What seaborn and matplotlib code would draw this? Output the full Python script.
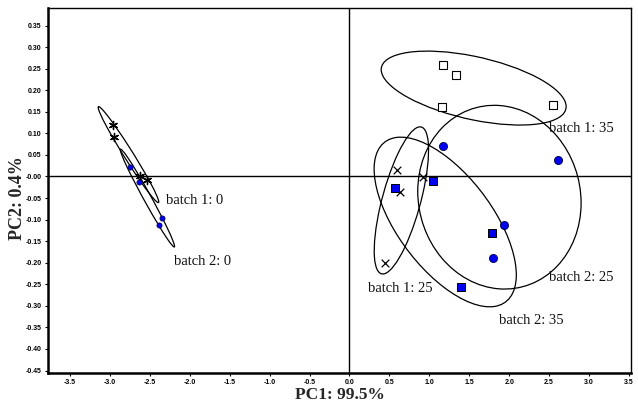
import numpy as np
import pandas as pd
import matplotlib
matplotlib.use("Agg")
import matplotlib.pyplot as plt
import seaborn as sns
from matplotlib.patches import Ellipse
from matplotlib.ticker import FixedLocator, FuncFormatter

# ---- data (PC scores) ----
b10_x = [-2.96, -2.95, -2.62, -2.54]
b10_y = [0.119, 0.092, 0.000, -0.008]
b20_x = [-2.75, -2.64, -2.35, -2.38]
b20_y = [0.023, -0.013, -0.097, -0.113]
b125_x = [0.60, 0.63, 0.92, 0.45]
b125_y = [0.014, -0.035, -0.001, -0.200]
b135_x = [1.17, 1.34, 1.16, 2.55]
b135_y = [0.259, 0.235, 0.161, 0.165]
b225_x = [1.17, 2.61, 1.93, 1.80]
b225_y = [0.071, 0.038, -0.113, -0.188]
b235_x = [0.575, 1.04, 1.78, 1.40]
b235_y = [-0.026, -0.010, -0.130, -0.256]

group_names = ["batch 1: 0", "batch 2: 0", "batch 1: 25",
               "batch 1: 35", "batch 2: 25", "batch 2: 35"]
label_x = [-2.30, -2.195, 0.23, 2.50, 2.50, 1.87]
label_y = [-0.055, -0.198, -0.26, 0.112, -0.234, -0.335]

x_ticks = [-3.5, -3.0, -2.5, -2.0, -1.5, -1.0, -0.5, 0.0, 0.5, 1.0, 1.5, 2.0, 2.5, 3.0, 3.5]
y_ticks = [-0.45, -0.40, -0.35, -0.30, -0.25, -0.20, -0.15, -0.10, -0.05, 0.0,
           0.05, 0.10, 0.15, 0.20, 0.25, 0.30, 0.35]

ELL_SCALE = np.sqrt(3.0)

sns.set_style("ticks")
plt.rcParams["font.family"] = ["Liberation Serif", "DejaVu Serif"]

fig = plt.figure(figsize=(6.38, 4.08), dpi=100)
ax = fig.add_axes([48 / 638, 1 - 372.7 / 408, (631 - 48) / 638, (372.7 - 8.3) / 408])

blue = "#0000ee"
groups = [
    (b10_x, b10_y, dict(marker=(6, 2, 0), s=34, color="black", linewidth=1.0)),
    (b20_x, b20_y, dict(marker="o", s=14, color=blue, edgecolor="#000044", linewidth=0.5)),
    (b125_x, b125_y, dict(marker="x", s=30, color="black", linewidth=0.9)),
    (b135_x, b135_y, dict(marker="s", s=26, facecolor="white", edgecolor="black", linewidth=0.8)),
    (b225_x, b225_y, dict(marker="o", s=34, color=blue, edgecolor="#000044", linewidth=0.6)),
    (b235_x, b235_y, dict(marker="s", s=34, color=blue, edgecolor="black", linewidth=0.7)),
]

# zero lines
ax.axhline(0, color="black", lw=1.0, zorder=1)
ax.axvline(0, color="black", lw=1.0, zorder=1)

for (gx, gy, style), name, lx, ly in zip(groups, group_names, label_x, label_y):
    df = pd.DataFrame({"PC1": gx, "PC2": gy})
    sns.scatterplot(data=df, x="PC1", y="PC2", ax=ax, legend=False, zorder=3, **style)
    # covariance ellipse
    xy = np.column_stack([gx, gy])
    mean = xy.mean(axis=0)
    cov = np.cov(xy, rowvar=False)
    vals, vecs = np.linalg.eigh(cov)
    order = vals.argsort()[::-1]
    vals, vecs = vals[order], vecs[:, order]
    angle = np.degrees(np.arctan2(vecs[1, 0], vecs[0, 0]))
    w, h = 2 * ELL_SCALE * np.sqrt(vals)
    ax.add_patch(Ellipse(mean, w, h, angle=angle, fill=False, edgecolor="black", lw=0.9, zorder=2))
    ax.text(lx, ly, name, fontsize=10.5, va="center", ha="left", color="#111111", zorder=4)

ax.set_xlim(-3.775, 3.525)
ax.set_ylim(-0.455, 0.39)
ax.xaxis.set_major_locator(FixedLocator(x_ticks))
ax.yaxis.set_major_locator(FixedLocator(y_ticks))
ax.xaxis.set_major_formatter(FuncFormatter(lambda v, p: f"{v:.1f}"))
ax.yaxis.set_major_formatter(FuncFormatter(lambda v, p: "-0.00" if abs(v) < 1e-9 else f"{v:.2f}"))
for lab in ax.get_xticklabels() + ax.get_yticklabels():
    lab.set_fontfamily(["Liberation Sans", "DejaVu Sans"])
    lab.set_fontweight("bold")
    lab.set_fontsize(5)
ax.tick_params(axis="both", direction="out", length=2.5, width=0.8, pad=2, colors="black")
ax.tick_params(top=False, right=False)

for side in ["left", "bottom"]:
    ax.spines[side].set_linewidth(1.8)
    ax.spines[side].set_color("black")
for side in ["top", "right"]:
    ax.spines[side].set_visible(True)
    ax.spines[side].set_linewidth(1.0)
    ax.spines[side].set_color("black")

ax.set_xlabel("PC1: 99.5%", fontsize=12.5, fontweight="bold")
ax.set_ylabel("PC2: 0.4%", fontsize=13, fontweight="bold")
ax.xaxis.set_label_coords(0.5, -0.04)
ax.yaxis.set_label_coords(-0.038, 0.48)

fig.savefig("out.png", dpi=100)
